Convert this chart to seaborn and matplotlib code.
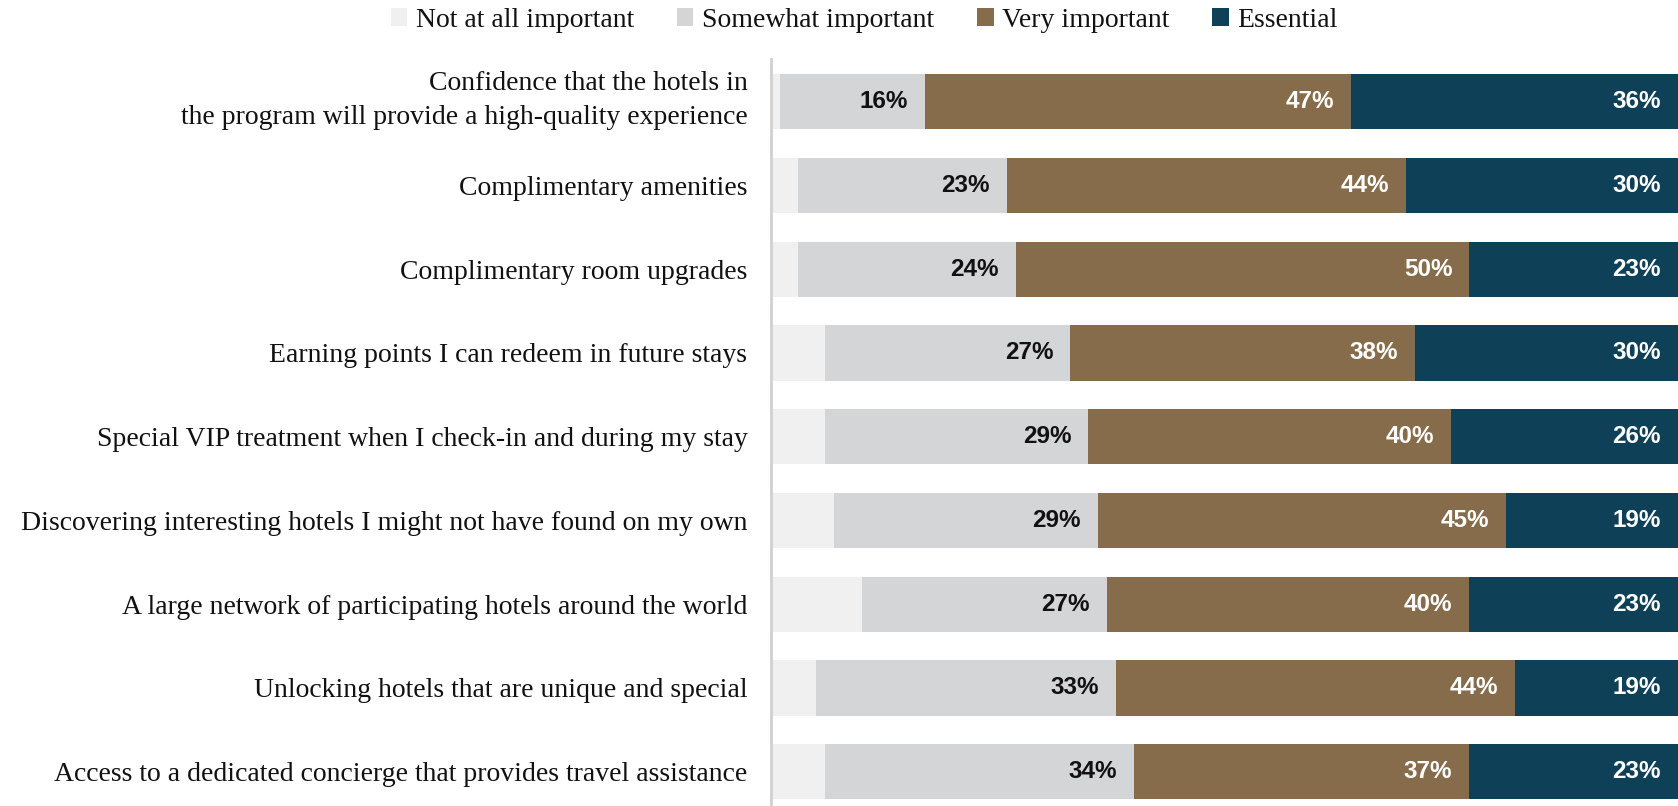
import matplotlib
matplotlib.use("Agg")
import matplotlib.pyplot as plt
from matplotlib.patches import Patch
from matplotlib.transforms import ScaledTranslation
import seaborn as sns
import pandas as pd
import numpy as np

categories = [
    "Confidence that the hotels in\nthe program will provide a high-quality experience",
    "Complimentary amenities",
    "Complimentary room upgrades",
    "Earning points I can redeem in future stays",
    "Special VIP treatment when I check-in and during my stay",
    "Discovering interesting hotels I might not have found on my own",
    "A large network of participating hotels around the world",
    "Unlocking hotels that are unique and special",
    "Access to a dedicated concierge that provides travel assistance",
]
not_at_all = [1, 3, 3, 6, 6, 7, 10, 5, 6]
somewhat = [16, 23, 24, 27, 29, 29, 27, 33, 34]
very = [47, 44, 50, 38, 40, 45, 40, 44, 37]
essential = [36, 30, 23, 30, 26, 19, 23, 19, 23]
series_names = ["Not at all important", "Somewhat important", "Very important", "Essential"]
colors = ["#F0F0F0", "#D4D5D7", "#866C4B", "#0E4157"]
label_colors = [None, "#111111", "white", "white"]

df = pd.DataFrame({
    "category": categories,
    series_names[0]: not_at_all,
    series_names[1]: somewhat,
    series_names[2]: very,
    series_names[3]: essential,
})
cum = df[series_names].cumsum(axis=1)

sns.set_theme(style="white")
fig = plt.figure(figsize=(16.78, 8.06), dpi=100)
ax = fig.add_axes([771 / 1678, 0.0, 1 - 771 / 1678, 1 - 59 / 806])

# Stacked bars: draw cumulative totals from the outermost segment inward
for name, color in reversed(list(zip(series_names, colors))):
    sns.barplot(x=cum[name], y=df["category"], order=categories, orient="h",
                color=color, width=0.66, saturation=1, ax=ax, linewidth=0)

# Value labels at the right end of each labelled segment
for si in (1, 2, 3):
    name = series_names[si]
    for i, (v, end) in enumerate(zip(df[name], cum[name])):
        ax.annotate(f"{v}%", xy=(min(end, 100), i), xytext=(-17, 0), textcoords="offset pixels",
                    ha="right", va="center", fontsize=17.5, fontweight="bold",
                    family="Liberation Sans", color=label_colors[si])

ax.set_xlim(0, 100)
ax.set_ylim(8.41, -0.51)
ax.set_xlabel("")
ax.set_ylabel("")
ax.set_xticks([])
for s in ("top", "right", "bottom"):
    ax.spines[s].set_visible(False)
ax.spines["left"].set_color("#D0D0D0")
ax.spines["left"].set_linewidth(2)
ax.tick_params(axis="y", length=0, pad=17)
for lab in ax.get_yticklabels():
    lab.set_fontfamily("Liberation Serif")
    lab.set_fontsize(20)
    lab.set_color("#111111")
    lab.set_multialignment("right")
    lab.set_linespacing(1.45)
    if "\n" in lab.get_text():
        # two-line label sits slightly above the bar centre
        lab.set_transform(lab.get_transform() + ScaledTranslation(0, 0.085, fig.dpi_scale_trans))

handles = [Patch(facecolor=c, edgecolor="none", label=n) for n, c in zip(series_names, colors)]
leg = fig.legend(handles=handles, loc="center", bbox_to_anchor=(0.515, 0.975), ncol=4,
                 frameon=False, handlelength=0.6, handleheight=0.6, handletextpad=0.3,
                 columnspacing=1.55, prop={"family": "Liberation Serif", "size": 20})
for t in leg.get_texts():
    t.set_color("#111111")

fig.savefig("out.png", dpi=100)
